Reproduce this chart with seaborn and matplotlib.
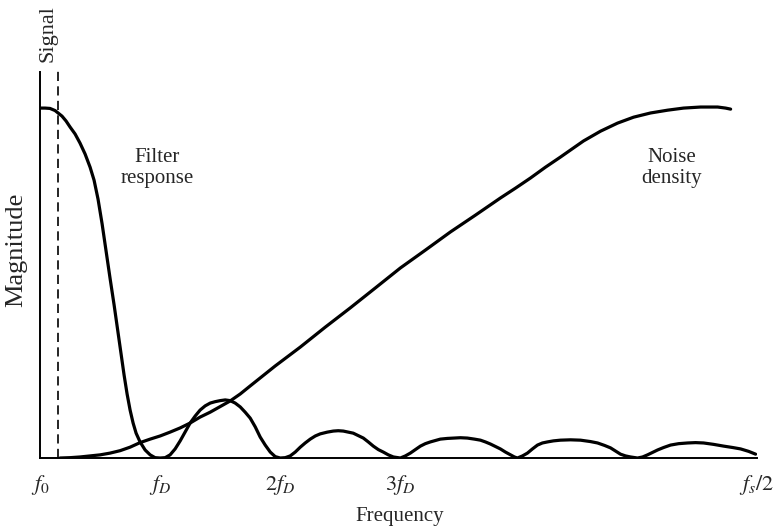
import matplotlib
matplotlib.use("Agg")
import matplotlib.pyplot as plt
import pandas as pd
import seaborn as sns

# Frequency axis in units of f_D (f0 = 0), magnitude normalised to the passband level
filter_freq = [0.000, 0.042, 0.083, 0.125, 0.150, 0.183, 0.217, 0.250, 0.292, 0.333,
               0.375, 0.417, 0.450, 0.483, 0.517, 0.550, 0.583, 0.617, 0.650, 0.675,
               0.700, 0.725, 0.750, 0.775, 0.800, 0.833, 0.875, 0.917, 0.958, 1.000,
               1.042, 1.083, 1.125, 1.167, 1.208, 1.250, 1.292, 1.333, 1.375, 1.417,
               1.458, 1.500, 1.542, 1.583, 1.625, 1.667, 1.708, 1.750, 1.792, 1.833,
               1.875, 1.917, 1.958, 2.000,
               2.042, 2.083, 2.125, 2.167, 2.208, 2.250, 2.292, 2.333, 2.392, 2.442,
               2.483, 2.525, 2.567, 2.608, 2.650, 2.692, 2.733, 2.775, 2.817, 2.858,
               2.900, 2.942, 3.000,
               3.042, 3.083, 3.125, 3.167, 3.208, 3.250, 3.292, 3.333, 3.392, 3.442,
               3.500, 3.558, 3.617, 3.667, 3.708, 3.750, 3.792, 3.833, 3.875, 3.917,
               3.950, 3.975,
               4.017, 4.058, 4.100, 4.142, 4.183, 4.225, 4.275, 4.333, 4.417, 4.500,
               4.583, 4.642, 4.700, 4.750, 4.792, 4.833, 4.875, 4.917, 4.975,
               5.017, 5.058, 5.100, 5.142, 5.192, 5.250, 5.317, 5.392, 5.458, 5.525,
               5.608, 5.692, 5.767, 5.833, 5.900, 5.958]
filter_mag = [1.000, 1.000, 0.999, 0.993, 0.986, 0.977, 0.963, 0.946, 0.926, 0.900,
              0.869, 0.831, 0.794, 0.740, 0.669, 0.591, 0.514, 0.437, 0.357, 0.297,
              0.237, 0.183, 0.137, 0.100, 0.071, 0.046, 0.023, 0.009, 0.001, 0.000,
              0.001, 0.009, 0.026, 0.049, 0.074, 0.100, 0.120, 0.137, 0.149, 0.157,
              0.161, 0.164, 0.166, 0.164, 0.157, 0.146, 0.131, 0.114, 0.089, 0.060,
              0.037, 0.017, 0.004, 0.000,
              0.001, 0.006, 0.017, 0.031, 0.043, 0.054, 0.063, 0.069, 0.074, 0.077,
              0.078, 0.077, 0.074, 0.071, 0.064, 0.057, 0.046, 0.034, 0.024, 0.017,
              0.009, 0.003, 0.000,
              0.006, 0.014, 0.024, 0.034, 0.041, 0.046, 0.050, 0.054, 0.056, 0.057,
              0.058, 0.057, 0.054, 0.051, 0.046, 0.040, 0.033, 0.026, 0.017, 0.009,
              0.003, 0.000,
              0.006, 0.014, 0.026, 0.037, 0.043, 0.046, 0.049, 0.051, 0.052, 0.051,
              0.047, 0.043, 0.036, 0.029, 0.020, 0.011, 0.006, 0.003, 0.000,
              0.003, 0.009, 0.016, 0.023, 0.030, 0.037, 0.041, 0.043, 0.044, 0.043,
              0.039, 0.034, 0.030, 0.026, 0.019, 0.011]

noise_freq = [0.167, 0.250, 0.333, 0.417, 0.500, 0.583, 0.667, 0.750, 0.833, 0.917,
              1.000, 1.083, 1.167, 1.250, 1.333, 1.417, 1.500, 1.583, 1.667, 1.750,
              1.958, 2.167, 2.375, 2.583, 2.792, 3.000, 3.208, 3.417, 3.625, 3.833,
              3.958, 4.083, 4.208, 4.333, 4.433, 4.525, 4.667, 4.808, 4.942, 5.083,
              5.225, 5.358, 5.500, 5.642, 5.708, 5.750]
noise_mag = [0.000, 0.001, 0.003, 0.006, 0.009, 0.014, 0.021, 0.031, 0.044, 0.054,
             0.063, 0.074, 0.086, 0.100, 0.117, 0.131, 0.147, 0.163, 0.183, 0.206,
             0.263, 0.317, 0.374, 0.429, 0.486, 0.543, 0.594, 0.646, 0.694, 0.743,
             0.771, 0.800, 0.831, 0.860, 0.884, 0.906, 0.934, 0.957, 0.974, 0.986,
             0.994, 1.000, 1.003, 1.003, 1.000, 0.997]

signal_freq = 0.15
tick_positions = [1, 2, 3, 3.97, 5]
tick_labels = ["$f_D$", "$2f_D$", "$3f_D$", "", ""]
edge_positions = [0, 5.97]
edge_labels = ["$f_0$", "$f_s/2$"]

sns.set_style("white")
plt.rcParams["font.family"] = ["Liberation Serif", "DejaVu Serif"]
plt.rcParams["mathtext.fontset"] = "stix"

fig = plt.figure(figsize=(7.74, 5.27), dpi=100)
ax = fig.add_axes([0.0517, 0.1309, 0.9264, 0.7324])

filter_df = pd.DataFrame({"freq": filter_freq, "mag": filter_mag})
noise_df = pd.DataFrame({"freq": noise_freq, "mag": noise_mag})

line_kw = dict(color="black", linewidth=2.3, estimator=None, sort=False, ax=ax)
sns.lineplot(data=filter_df, x="freq", y="mag", **line_kw)
sns.lineplot(data=noise_df, x="freq", y="mag", **line_kw)
for ln in ax.lines:
    ln.set_solid_joinstyle("round")
    ln.set_solid_capstyle("round")

ax.plot([signal_freq, signal_freq], [0, 1.117], color="black", linewidth=1.2,
        dashes=(5.5, 3.2), clip_on=False)

ax.set_xlim(0, 5.97)
ax.set_ylim(0, 1.103)

for side in ("top", "right"):
    ax.spines[side].set_visible(False)
for side in ("left", "bottom"):
    ax.spines[side].set_color("black")
    ax.spines[side].set_linewidth(1.4)

ax.set_yticks([])
ax.set_xticks(tick_positions)
ax.set_xticklabels(tick_labels)
ax.set_xticks(edge_positions, minor=True)
ax.set_xticklabels(edge_labels, minor=True)
ax.tick_params(axis="x", which="major", direction="in", length=9.5, width=1.1,
               color="black", labelsize=16, pad=11)
ax.tick_params(axis="x", which="minor", length=0, labelsize=16, pad=11)
ax.set_xlabel("")
ax.set_ylabel("")

ax.text(0.975, 0.83, "Filter\nresponse", ha="center", va="center",
        fontsize=15, linespacing=1.15)
ax.text(5.26, 0.83, "Noise\ndensity", ha="center", va="center",
        fontsize=15, linespacing=1.15)

fig.text(48 / 774, 1 - 34 / 527, "Signal", rotation=90, ha="center", va="center",
         fontsize=16)
fig.text(16 / 774, 1 - 250 / 527, "Magnitude", rotation=90, ha="center", va="center",
         fontsize=19)
fig.text(400 / 774, 1 - 517 / 527, "Frequency", ha="center", va="center",
         fontsize=15)

fig.savefig("out.png", dpi=100, facecolor="white")
